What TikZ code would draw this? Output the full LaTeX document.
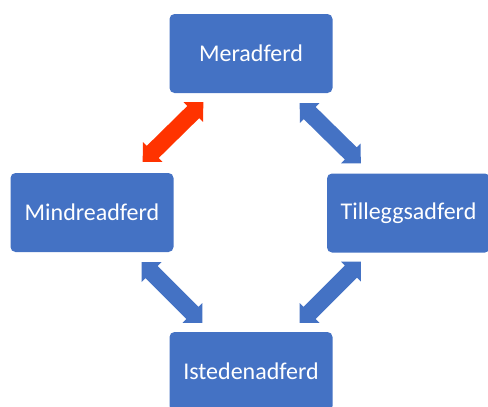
\documentclass[tikz,border=0pt]{standalone}
\usepackage{fontspec}
\setmainfont{Carlito}
\usetikzlibrary{calc}
\definecolor{boxblue}{HTML}{4472C4}
\definecolor{arrred}{HTML}{FF3300}
\tikzset{
  box/.style={draw=none, fill=boxblue, rounded corners=5pt, minimum width=163pt, minimum height=79pt,
    inner sep=0pt, text=white, font=\fontsize{24}{28}\selectfont},
}
\newcommand\dblarr[3]{%
 \fill[#3] (#1) -- ($(#1)!14pt!(#2)!14pt!90:(#2)$) -- ($(#1)!14pt!(#2)!8.5pt!90:(#2)$)
  -- ($(#2)!14pt!(#1)!8.5pt!-90:(#1)$) -- ($(#2)!14pt!(#1)!14pt!-90:(#1)$) -- (#2)
  -- ($(#2)!14pt!(#1)!14pt!90:(#1)$) -- ($(#2)!14pt!(#1)!8.5pt!90:(#1)$)
  -- ($(#1)!14pt!(#2)!8.5pt!-90:(#2)$) -- ($(#1)!14pt!(#2)!14pt!-90:(#2)$) -- cycle;}
\begin{document}
\begin{tikzpicture}[x=1pt,y=-1pt]
\useasboundingbox (0,0) rectangle (488,407);
\clip (0,0) rectangle (488,407);
\node[box] (mer) at (251,53.5) {Meradferd};
\node[box] (min) at (92,212.5) {Mindreadferd};
\node[box] (til) at (408.5,213) {Tilleggsadferd};
\node[box] (ist) at (251,371.5) {Istedenadferd};
\coordinate (a1s) at ($(mer.south west)+(34,9)$);
\coordinate (a1e) at ($(min.north east)+(-31,-11)$);
\coordinate (a2s) at ($(mer.south east)+(-33,10)$);
\coordinate (a2e) at ($(til.north west)+(34,-10)$);
\coordinate (a3s) at ($(min.south east)+(-32,10)$);
\coordinate (a3e) at ($(ist.north west)+(33,-9)$);
\coordinate (a4s) at ($(til.south west)+(34,9)$);
\coordinate (a4e) at ($(ist.north east)+(-33,-9)$);
\dblarr{a1s}{a1e}{arrred}
\dblarr{a2s}{a2e}{boxblue}
\dblarr{a3s}{a3e}{boxblue}
\dblarr{a4s}{a4e}{boxblue}
\end{tikzpicture}
\end{document}
